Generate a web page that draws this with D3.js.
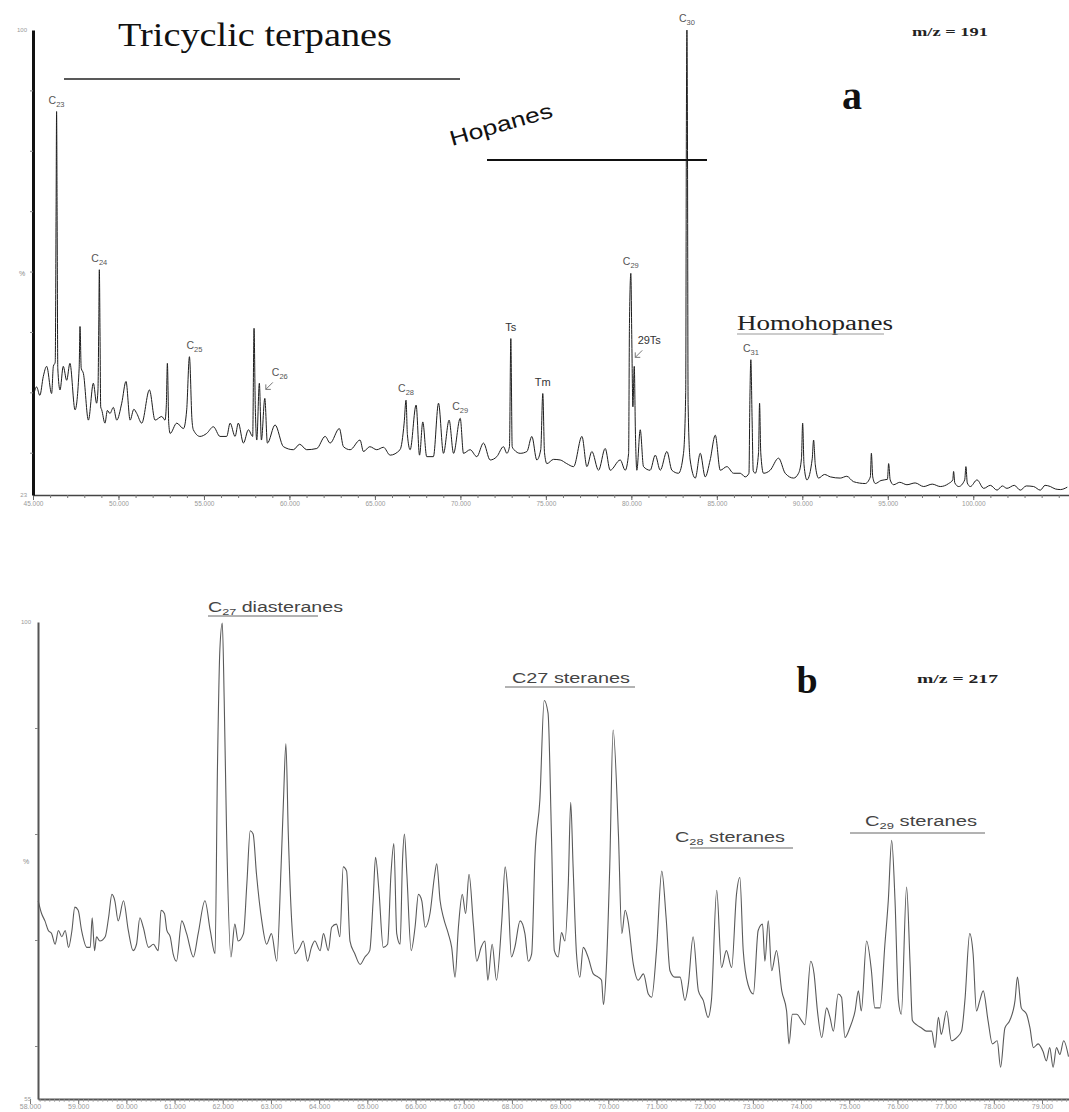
<!DOCTYPE html>
<html>
<head>
<meta charset="utf-8">
<script src="https://cdn.jsdelivr.net/npm/d3@7"></script>
<style>
  body { margin: 0; background: #fff; }
  svg { display: block; }
</style>
</head>
<body>
<script>
// m/z 191 trace, [retention time (min), relative abundance %]
var traceA = [[45.02,39.3],[45.21,40.9],[45.40,39.5],[45.60,42.6],[45.80,44.3],[46.09,39.8],[46.19,44.3],[46.30,45.0],[46.35,70],[46.38,86.5],[46.41,70],[46.45,44],[46.58,40.4],[46.77,44.3],[46.97,42.0],[47.16,44.8],[47.46,37.1],[47.70,44],[47.75,50.9],[47.82,44],[47.95,43.1],[48.24,35.4],[48.53,41.5],[48.72,38.2],[48.80,40.4],[48.85,52],[48.88,60.3],[48.92,50],[48.96,37.6],[49.02,37.1],[49.21,34.9],[49.35,37.0],[49.50,36.5],[49.70,37.5],[49.90,35.4],[50.19,38.2],[50.44,41.8],[50.68,35.4],[50.90,37.2],[51.07,36.5],[51.36,34.9],[51.81,40.4],[52.14,35.4],[52.53,36.0],[52.72,35.4],[52.80,38],[52.86,44.8],[52.94,34.9],[53.02,33.2],[53.41,34.9],[53.80,34.0],[53.99,37.1],[54.15,45.9],[54.30,35.4],[54.38,33.8],[54.77,32.7],[55.16,33.2],[55.55,34.3],[55.94,32.7],[56.33,32.7],[56.53,34.9],[56.82,32.7],[57.01,34.9],[57.31,31.6],[57.60,33.8],[57.85,32.7],[57.93,50.6],[58.00,38],[58.09,32.1],[58.24,41.5],[58.36,32.1],[58.56,39.0],[58.71,31.6],[59.16,34.6],[59.65,31.0],[60.23,30.5],[60.60,31.4],[61.01,30.5],[61.60,30.7],[62.09,32.7],[62.38,31.6],[62.92,34.0],[63.16,31.0],[63.55,30.5],[64.13,32.1],[64.33,30.2],[64.70,31.0],[65.11,30.5],[65.50,30.9],[65.89,29.6],[66.47,30.5],[66.71,34.9],[66.82,38.7],[66.90,33],[67.06,30.5],[67.41,37.9],[67.61,29.6],[67.80,35.1],[68.03,29.35],[68.42,29.35],[68.72,38.2],[69.01,29.9],[69.34,35.4],[69.60,29.9],[69.99,35.7],[70.18,29.9],[70.57,30.5],[70.96,29.35],[71.35,31.6],[71.74,28.8],[72.13,29.35],[72.52,31.0],[72.72,29.9],[72.87,31.0],[72.95,48.9],[73.03,31],[73.14,30.5],[73.50,29.9],[73.89,30.2],[74.18,32.7],[74.47,28.8],[74.70,30.5],[74.82,39.8],[74.92,30],[75.06,28.2],[75.45,28.9],[75.84,28.8],[76.22,28.2],[76.62,27.7],[77.11,32.7],[77.40,27.7],[77.69,30.2],[78.08,27.1],[78.47,30.7],[78.76,27.1],[79.35,28.8],[79.64,27.1],[79.84,29.9],[79.89,51.4],[79.97,59.7],[80.03,48],[80.09,37.6],[80.17,44.3],[80.24,33],[80.32,27.1],[80.52,33.8],[80.71,27.7],[81.10,27.1],[81.40,29.6],[81.69,27.1],[82.08,30.2],[82.37,27.1],[82.76,26.6],[83.05,29.9],[83.18,40],[83.22,85],[83.25,100],[83.28,85],[83.32,38],[83.44,28.8],[83.74,25.8],[84.03,29.9],[84.32,26.0],[84.61,28.8],[84.91,32.9],[85.20,27.1],[85.59,27.7],[85.98,26.6],[86.37,26.6],[86.66,26.0],[86.88,26.6],[86.93,38],[86.99,45.4],[87.06,36],[87.13,27],[87.25,26.6],[87.44,30],[87.50,38.2],[87.57,30],[87.73,26.6],[88.12,27.1],[88.61,29.1],[89.00,26.6],[89.49,25.8],[89.78,26.6],[89.95,29],[90.02,34.9],[90.10,28],[90.27,25.5],[90.58,29],[90.66,32.1],[90.76,28],[90.95,25.8],[91.30,26.4],[91.64,26.0],[92.22,25.8],[92.60,26.1],[93.00,25.2],[93.68,24.9],[93.98,26],[94.04,29.9],[94.12,26],[94.27,24.9],[94.60,25.4],[94.98,25.6],[95.05,28.2],[95.14,25.5],[95.34,24.7],[95.70,25.1],[96.12,24.7],[96.60,25.0],[97.10,24.4],[97.60,24.8],[98.07,24.4],[98.56,24.9],[98.80,25.5],[98.85,26.9],[98.92,25],[99.15,24.4],[99.50,25.5],[99.57,27.7],[99.65,25],[99.83,24.4],[100.22,25.5],[100.61,24.1],[101.00,24.6],[101.39,23.8],[101.70,24.5],[101.97,24.1],[102.40,24.6],[102.75,23.8],[103.10,24.5],[103.53,24.4],[103.92,23.8],[104.20,24.6],[104.51,24.4],[104.80,24.0],[105.10,23.9],[105.50,24.3]];

// m/z 217 trace
var traceB = [[58.17,73.7],[58.24,72.5],[58.31,71.8],[58.38,70.9],[58.45,70.6],[58.52,69.6],[58.59,70.9],[58.66,70.3],[58.73,70.9],[58.80,69.3],[58.87,70.9],[58.93,73.1],[59.00,72.8],[59.07,70.9],[59.18,69.3],[59.25,69.3],[59.29,72.1],[59.34,69.0],[59.38,70.3],[59.45,69.9],[59.56,70.3],[59.63,72.1],[59.70,74.3],[59.76,73.7],[59.83,71.8],[59.94,73.7],[60.04,70.9],[60.14,69.0],[60.21,69.6],[60.28,72.1],[60.35,71.2],[60.46,69.3],[60.56,69.6],[60.66,69.0],[60.72,72.8],[60.79,72.5],[60.84,70.9],[60.91,70.3],[60.97,68.7],[61.04,68.0],[61.15,71.8],[61.25,70.6],[61.39,68.4],[61.49,70.6],[61.63,73.7],[61.74,70.9],[61.84,68.7],[61.89,86.3],[61.94,97.4],[61.99,99.9],[62.03,92.6],[62.08,80.0],[62.17,68.4],[62.25,71.5],[62.32,69.9],[62.43,70.6],[62.50,75.3],[62.57,80.3],[62.63,80.0],[62.70,76.2],[62.81,71.8],[62.91,69.6],[63.01,70.6],[63.12,68.0],[63.21,76.9],[63.26,83.2],[63.31,88.5],[63.36,80.0],[63.43,71.8],[63.50,68.7],[63.60,69.3],[63.67,69.9],[63.76,68.0],[63.84,69.3],[63.91,69.9],[64.02,69.0],[64.09,70.6],[64.19,69.0],[64.26,71.2],[64.36,71.5],[64.43,70.3],[64.50,76.9],[64.57,76.5],[64.64,69.9],[64.74,68.7],[64.85,67.7],[64.95,68.4],[65.05,69.0],[65.12,73.7],[65.17,77.8],[65.24,74.7],[65.33,69.3],[65.42,69.6],[65.49,76.2],[65.55,79.1],[65.61,70.6],[65.68,69.6],[65.73,77.5],[65.77,80.0],[65.82,76.2],[65.91,69.0],[65.99,71.2],[66.06,74.3],[66.13,73.7],[66.20,71.2],[66.30,72.5],[66.39,75.9],[66.44,77.2],[66.51,73.7],[66.58,72.1],[66.68,70.6],[66.75,69.3],[66.82,66.5],[66.89,71.2],[66.97,74.3],[67.04,72.5],[67.11,76.2],[67.20,71.5],[67.27,68.0],[67.36,69.3],[67.44,69.9],[67.50,66.2],[67.59,69.6],[67.68,66.2],[67.79,71.8],[67.86,76.9],[67.92,74.3],[67.99,68.4],[68.06,69.3],[68.17,71.8],[68.27,70.6],[68.34,68.0],[68.41,68.7],[68.48,78.1],[68.58,83.2],[68.67,92.6],[68.75,91.4],[68.82,80.0],[68.88,69.0],[68.96,68.4],[69.03,70.7],[69.10,69.9],[69.17,75.3],[69.22,83.0],[69.27,76.9],[69.34,68.7],[69.41,66.5],[69.48,69.3],[69.58,68.4],[69.69,66.8],[69.79,66.5],[69.86,66.2],[69.90,63.9],[69.96,67.4],[70.03,76.9],[70.10,89.8],[70.21,80.0],[70.28,70.6],[70.35,72.8],[70.41,71.8],[70.52,67.7],[70.62,66.2],[70.73,66.8],[70.83,64.9],[70.90,64.6],[71.00,69.0],[71.11,76.5],[71.20,72.1],[71.28,67.1],[71.38,66.5],[71.49,66.5],[71.59,64.3],[71.66,65.8],[71.76,70.3],[71.87,65.2],[71.97,64.3],[72.07,62.7],[72.14,64.3],[72.25,74.7],[72.35,67.4],[72.45,69.0],[72.56,67.4],[72.66,74.3],[72.73,75.9],[72.80,69.0],[72.90,65.8],[73.01,64.9],[73.11,70.9],[73.20,71.5],[73.25,68.0],[73.32,71.8],[73.39,67.1],[73.49,69.0],[73.60,65.2],[73.70,63.3],[73.75,60.2],[73.82,63.0],[73.91,63.0],[74.01,62.4],[74.08,62.0],[74.20,68.0],[74.27,66.8],[74.34,63.3],[74.43,60.8],[74.53,63.6],[74.60,62.7],[74.67,61.4],[74.77,64.9],[74.84,64.6],[74.91,60.8],[75.01,61.7],[75.12,63.3],[75.19,65.2],[75.25,63.3],[75.36,69.9],[75.46,67.1],[75.53,63.6],[75.64,63.6],[75.74,69.6],[75.81,73.7],[75.88,79.4],[75.95,73.7],[76.02,64.3],[76.08,63.0],[76.19,75.0],[76.26,68.0],[76.31,62.4],[76.40,62.0],[76.50,61.7],[76.60,61.4],[76.71,61.4],[76.78,59.85],[76.85,62.7],[76.91,61.1],[77.02,63.3],[77.12,60.5],[77.23,60.8],[77.33,61.4],[77.40,64.3],[77.50,70.6],[77.57,68.7],[77.64,63.3],[77.71,64.3],[77.78,65.2],[77.88,62.4],[77.97,60.2],[78.07,60.5],[78.14,58.0],[78.23,61.7],[78.33,62.4],[78.44,64.3],[78.49,66.5],[78.57,63.6],[78.68,63.0],[78.75,61.7],[78.82,59.85],[78.92,60.2],[79.02,59.5],[79.09,58.6],[79.16,59.85],[79.23,58.0],[79.30,59.85],[79.37,59.2],[79.45,60.5],[79.55,59.0]];

// axis tick values
var ticksA = [45, 50, 55, 60, 65, 70, 75, 80, 85, 90, 95, 100];
var ticksB = [58, 59, 60, 61, 62, 63, 64, 65, 66, 67, 68, 69, 70, 71, 72, 73, 74, 75, 76, 77, 78, 79, 80];
var yTicksA = [30, 40, 50, 60, 70, 80, 90];
var yTicksB = [60, 70, 80, 90];
var yEndsA = ["100", "23"];
var yEndsB = ["100", "55"];

// labelled peaks on m/z 191: name, subscript, peak time, peak height
var peakNames = ["C", "C", "C", "C", "C", "C", "Ts", "Tm", "C", "29Ts", "C", "C"];
var peakSubs = ["23", "24", "25", "26", "28", "29", "", "", "29", "", "30", "31"];
var peakTimes = [46.38, 48.88, 54.15, 58.56, 66.82, 69.99, 72.95, 74.82, 79.97, 80.17, 83.25, 86.99];
var peakHeights = [86.5, 60.3, 45.9, 39.0, 38.7, 35.7, 48.9, 39.8, 59.7, 44.3, 100, 45.4];

var W = 1069, H = 1112;
var svg = d3.select("body").append("svg")
    .attr("width", W)
    .attr("height", H);

var xA = d3.scaleLinear().domain([45, 105.6]).range([33, 1069]),
    yA = d3.scaleLinear().domain([23, 100]).range([495, 30]),
    xB = d3.scaleLinear().domain([58.166, 79.56]).range([38, 1069]),
    yB = d3.scaleLinear().domain([55, 100]).range([1099, 622]);

var fmt = d3.format(".3f");

// ---------- panel a ----------
var gA = svg.append("g");

gA.append("path")
    .datum(traceA)
    .attr("fill", "none")
    .attr("stroke", "#1e1e1e")
    .attr("stroke-width", 1)
    .attr("stroke-linejoin", "round")
    .attr("d", d3.line().curve(d3.curveMonotoneX).x(function (d) { return xA(d[0]); }).y(function (d) { return yA(d[1]); }));

// minor ticks, then labelled ones
gA.append("g")
    .attr("transform", "translate(0,495)")
    .call(d3.axisBottom(xA).tickValues(d3.range(45, 106, 1)).tickFormat("").tickSize(3).tickSizeOuter(0))
    .call(function (g) { g.select(".domain").attr("stroke", "#444").attr("stroke-width", 1.5); g.selectAll(".tick line").attr("stroke", "#777"); });

gA.append("g")
    .attr("transform", "translate(0,495)")
    .call(d3.axisBottom(xA).tickValues(ticksA).tickFormat(fmt).tickSize(5).tickSizeOuter(0))
    .call(function (g) {
      g.select(".domain").remove();
      g.selectAll(".tick line").attr("stroke", "#666");
      g.selectAll(".tick text").attr("fill", "#999").attr("font-size", 6.5).attr("font-family", "Liberation Sans, Arial, sans-serif").attr("dy", "0.5em");
    });

gA.append("g")
    .attr("transform", "translate(33,0)")
    .call(d3.axisLeft(yA).tickValues(yTicksA).tickFormat("").tickSize(3).tickSizeOuter(0))
    .call(function (g) { g.select(".domain").attr("stroke", "#111").attr("stroke-width", 3); g.selectAll(".tick line").attr("stroke", "#888"); });

gA.append("text").attr("x", 27).attr("y", yA(100) + 2).attr("text-anchor", "end")
    .attr("font-size", 6).attr("fill", "#999").attr("font-family", "Liberation Sans, Arial, sans-serif").text(yEndsA[0]);
gA.append("text").attr("x", 27).attr("y", yA(23) + 2).attr("text-anchor", "end")
    .attr("font-size", 6).attr("fill", "#999").attr("font-family", "Liberation Sans, Arial, sans-serif").text(yEndsA[1]);
gA.append("text").attr("x", 22).attr("y", yA(60) + 4).attr("text-anchor", "middle")
    .attr("font-size", 7).attr("fill", "#888").attr("font-family", "Liberation Sans, Arial, sans-serif").text("%");

// peak labels
peakNames.forEach(function (name, i) {
  var px = xA(peakTimes[i]), py = yA(peakHeights[i]);
  var isArrow = (peakSubs[i] === "26" || name === "29Ts");
  var lx = px, ly = py - 8;
  if (isArrow) { lx = px + 15; ly = py - 22; }
  if (peakSubs[i] === "25") lx = px + 5;
  var bold = (name === "Ts" || name === "Tm" || name === "29Ts");
  var t = gA.append("text")
      .attr("x", lx).attr("y", ly)
      .attr("text-anchor", "middle")
      .attr("font-family", "Liberation Sans, Arial, sans-serif")
      .attr("font-size", bold ? 11 : 10.5)
      .attr("fill", bold ? "#333" : "#555");
  t.append("tspan").text(name);
  if (peakSubs[i]) t.append("tspan").attr("font-size", 7.5).attr("dy", 3).text(peakSubs[i]);
  if (isArrow) {
    var ax = px + 8, ay = py - 16, bx = px + 1, by = py - 9;
    gA.append("path")
        .attr("d", "M" + ax + "," + ay + "L" + bx + "," + by + "M" + bx + "," + (by - 5) + "L" + bx + "," + by + "L" + (bx + 5) + "," + by)
        .attr("fill", "none").attr("stroke", "#666").attr("stroke-width", 0.9);
  }
});

// group annotations
gA.append("text").attr("x", 118).attr("y", 46)
    .attr("font-family", "Liberation Serif, Times New Roman, serif").attr("font-size", 34)
    .attr("textLength", 274).attr("lengthAdjust", "spacingAndGlyphs")
    .attr("fill", "#111").text("Tricyclic terpanes");
gA.append("line").attr("x1", 64).attr("x2", 460).attr("y1", 79).attr("y2", 79).attr("stroke", "#222").attr("stroke-width", 1.3);

gA.append("text").attr("transform", "translate(452,146) rotate(-16)")
    .attr("font-family", "Liberation Sans, Arial, sans-serif").attr("font-size", 21)
    .attr("textLength", 106).attr("lengthAdjust", "spacingAndGlyphs")
    .attr("fill", "#111").text("Hopanes");
gA.append("line").attr("x1", 487).attr("x2", 707).attr("y1", 160).attr("y2", 160).attr("stroke", "#111").attr("stroke-width", 2.2);

gA.append("text").attr("x", 737).attr("y", 330)
    .attr("font-family", "Liberation Serif, Times New Roman, serif").attr("font-size", 20)
    .attr("textLength", 156).attr("lengthAdjust", "spacingAndGlyphs")
    .attr("fill", "#222").text("Homohopanes");
gA.append("line").attr("x1", 737).attr("x2", 884).attr("y1", 334).attr("y2", 334).attr("stroke", "#999").attr("stroke-width", 1);

gA.append("text").attr("x", 852).attr("y", 109).attr("text-anchor", "middle")
    .attr("font-family", "Liberation Serif, Times New Roman, serif").attr("font-size", 40).attr("font-weight", "bold")
    .attr("fill", "#111").text("a");
gA.append("text").attr("x", 912).attr("y", 36)
    .attr("font-family", "Liberation Serif, Times New Roman, serif").attr("font-size", 12).attr("font-weight", "bold")
    .attr("textLength", 76).attr("lengthAdjust", "spacingAndGlyphs")
    .attr("fill", "#222").text("m/z = 191");

// ---------- panel b ----------
var gB = svg.append("g");

gB.append("path")
    .datum(traceB)
    .attr("fill", "none")
    .attr("stroke", "#5a5a5a")
    .attr("stroke-width", 1.1)
    .attr("stroke-linejoin", "round")
    .attr("d", d3.line().curve(d3.curveMonotoneX).x(function (d) { return xB(d[0]); }).y(function (d) { return yB(d[1]); }));

gB.append("g")
    .attr("transform", "translate(0,1099)")
    .call(d3.axisBottom(xB).tickValues(d3.range(58.2, 79.6, 0.1)).tickFormat("").tickSize(3).tickSizeOuter(0))
    .call(function (g) { g.select(".domain").attr("stroke", "#555").attr("stroke-width", 2); g.selectAll(".tick line").attr("stroke", "#999").attr("stroke-width", 0.7); });

gB.append("g")
    .attr("transform", "translate(0,1099)")
    .call(d3.axisBottom(xB).tickValues(ticksB.filter(function (d) { return xB(d) > 20 && xB(d) < 1090; })).tickFormat(fmt).tickSize(5).tickSizeOuter(0))
    .call(function (g) {
      g.select(".domain").remove();
      g.selectAll(".tick line").attr("stroke", "#777");
      g.selectAll(".tick text").attr("fill", "#999").attr("font-size", 7).attr("font-family", "Liberation Sans, Arial, sans-serif").attr("dy", "0.3em");
    });

gB.append("g")
    .attr("transform", "translate(38,0)")
    .call(d3.axisLeft(yB).tickValues(yTicksB).tickFormat("").tickSize(3).tickSizeOuter(0))
    .call(function (g) { g.select(".domain").attr("stroke", "#555").attr("stroke-width", 2); g.selectAll(".tick line").attr("stroke", "#888"); });

gB.append("text").attr("x", 31).attr("y", yB(100) + 2).attr("text-anchor", "end")
    .attr("font-size", 6).attr("fill", "#999").attr("font-family", "Liberation Sans, Arial, sans-serif").text(yEndsB[0]);
gB.append("text").attr("x", 31).attr("y", yB(55) + 2).attr("text-anchor", "end")
    .attr("font-size", 6).attr("fill", "#999").attr("font-family", "Liberation Sans, Arial, sans-serif").text(yEndsB[1]);
gB.append("text").attr("x", 26).attr("y", yB(77.5) + 3).attr("text-anchor", "middle")
    .attr("font-size", 7).attr("fill", "#888").attr("font-family", "Liberation Sans, Arial, sans-serif").text("%");

function groupLabel(x, y, parts, width, lx1, lx2, ly) {
  var t = gB.append("text").attr("x", x).attr("y", y)
      .attr("font-family", "Liberation Sans, Arial, sans-serif").attr("font-size", 14)
      .attr("textLength", width).attr("lengthAdjust", "spacingAndGlyphs")
      .attr("fill", "#444");
  parts.forEach(function (p) {
    var s = t.append("tspan").text(p[0]);
    if (p[1] === "sub") s.attr("font-size", 9).attr("dy", 3);
    if (p[1] === "up") s.attr("dy", -3);
  });
  gB.append("line").attr("x1", lx1).attr("x2", lx2).attr("y1", ly).attr("y2", ly).attr("stroke", "#666").attr("stroke-width", 1);
}

groupLabel(208, 612, [["C"], ["27", "sub"], [" diasteranes", "up"]], 135, 208, 318, 616);
groupLabel(512, 683, [["C27 steranes"]], 118, 505, 635, 687);
groupLabel(675, 842, [["C"], ["28", "sub"], [" steranes", "up"]], 110, 690, 793, 848);
groupLabel(865, 826, [["C"], ["29", "sub"], [" steranes", "up"]], 112, 850, 985, 833);

gB.append("text").attr("x", 807).attr("y", 693).attr("text-anchor", "middle")
    .attr("font-family", "Liberation Serif, Times New Roman, serif").attr("font-size", 38).attr("font-weight", "bold")
    .attr("fill", "#111").text("b");
gB.append("text").attr("x", 917).attr("y", 683)
    .attr("font-family", "Liberation Serif, Times New Roman, serif").attr("font-size", 12).attr("font-weight", "bold")
    .attr("textLength", 81).attr("lengthAdjust", "spacingAndGlyphs")
    .attr("fill", "#222").text("m/z = 217");
</script>
</body>
</html>
